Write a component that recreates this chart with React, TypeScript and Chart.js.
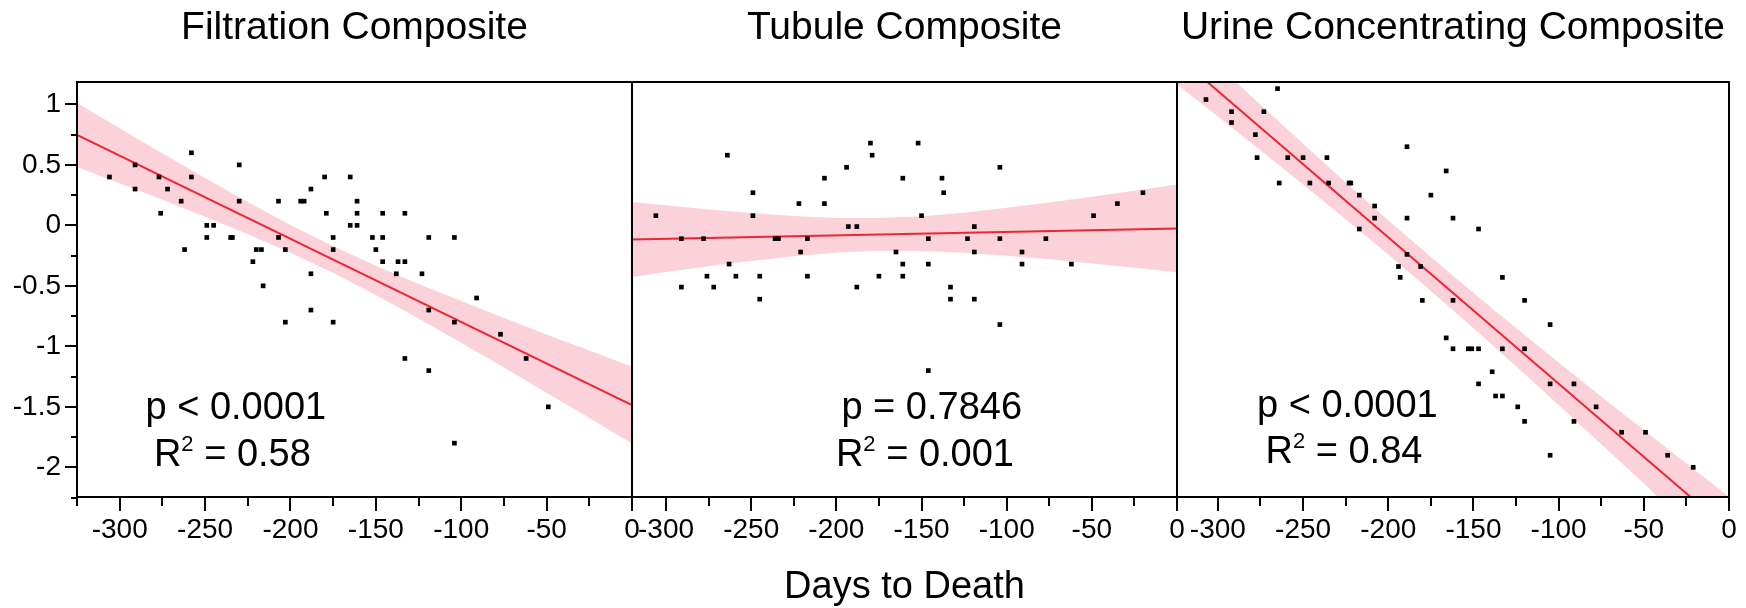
import React, { useEffect, useRef } from 'react';
import { Chart, registerables } from 'chart.js';

Chart.register(...registerables);

const FONT = "'Liberation Sans', Arial, Helvetica, sans-serif";
const RED = '#ee2535';
const PINK = '#fbd2d9';

// ---------- categories / titles ----------
const panelTitles = ['Filtration Composite', 'Tubule Composite', 'Urine Concentrating Composite'];
const xAxisTitle = 'Days to Death';

// ---------- tick labels ----------
const xMajorTicks = [-300, -250, -200, -150, -100, -50, 0];
const xMinorTicks = [-325, -275, -225, -175, -125, -75, -25];
const yMajorTicks = [1, 0.5, 0, -0.5, -1, -1.5, -2];
const yMinorTicks = [0.75, 0.25, -0.25, -0.75, -1.25, -1.75, -2.25];
const yMin = -2.245;
const yMax = 1.185;
const xMins = [-325, -320, -324];

// ---------- Filtration composite ----------
const filtrationDays = [
  -306, -291, -291, -277, -276, -272, -264, -262, -258, -258, -249, -249, -245, -235, -234, -230,
  -230, -222, -220, -217, -216, -207, -207, -203, -203, -194, -192, -188, -188, -188, -180, -179,
  -175, -175, -175, -165, -165, -161, -161, -161, -152, -150, -146, -146, -146, -138, -137, -133,
  -133, -133, -123, -119, -119, -119, -104, -104, -104, -91, -77, -62, -49,
];
const filtrationScores = [
  0.4, 0.5, 0.3, 0.4, 0.1, 0.3, 0.2, -0.2, 0.6, 0.4, 0, -0.1, 0, -0.1, -0.1, 0.5,
  0.2, -0.3, -0.2, -0.2, -0.5, 0.2, -0.1, -0.2, -0.8, 0.2, 0.2, 0.3, -0.4, -0.7, 0.4, 0.1,
  -0.1, -0.2, -0.8, 0.4, 0, 0.2, 0.1, 0, -0.1, -0.2, 0.1, -0.1, -0.3, -0.4, -0.3, 0.1,
  -0.3, -1.1, -0.4, -0.1, -0.7, -1.2, -0.1, -0.8, -1.8, -0.6, -0.9, -1.1, -1.5,
];
const filtrationFitX = [-325, 0];
const filtrationFitY = [0.747, -1.485];
const filtrationBandX = [-325, -300, -275, -250, -225, -200, -175, -150, -125, -100, -75, -50, -25, 0];
const filtrationUpper = [1.011, 0.802, 0.595, 0.392, 0.193, 0.003, -0.173, -0.334, -0.484, -0.626, -0.765, -0.901, -1.034, -1.168];
const filtrationLower = [0.483, 0.348, 0.211, 0.072, -0.073, -0.227, -0.393, -0.576, -0.77, -0.97, -1.175, -1.383, -1.592, -1.802];

// ---------- Tubule composite ----------
const tubuleDays = [
  -306, -291, -291, -278, -276, -272, -264, -263, -259, -249, -249, -245, -245, -236, -234, -222,
  -221, -217, -217, -207, -207, -194, -193, -188, -188, -180, -179, -175, -165, -161, -161, -161,
  -152, -150, -146, -146, -146, -138, -137, -133, -133, -123, -119, -119, -119, -104, -104, -104,
  -91, -91, -77, -62, -49, -35, -20,
];
const tubuleScores = [
  0.08, -0.11, -0.51, -0.11, -0.42, -0.51, 0.58, -0.32, -0.42, 0.27, 0.08, -0.42, -0.61, -0.11, -0.11, 0.18,
  -0.22, -0.11, -0.42, 0.39, 0.18, 0.48, -0.01, -0.01, -0.51, 0.68, 0.58, -0.42, -0.22, 0.39, -0.32, -0.42,
  0.68, 0.08, -0.11, -0.32, -1.2, 0.39, 0.27, -0.51, -0.61, -0.11, -0.01, -0.22, -0.61, 0.48, -0.11, -0.82,
  -0.22, -0.32, -0.11, -0.32, 0.08, 0.18, 0.27,
];
const tubuleFitX = [-320, 0];
const tubuleFitY = [-0.116, -0.025];
const tubuleBandX = [-320, -300, -275, -250, -225, -200, -175, -150, -125, -100, -75, -50, -25, 0];
const tubuleUpper = [0.194, 0.166, 0.132, 0.102, 0.077, 0.061, 0.06, 0.075, 0.105, 0.145, 0.189, 0.237, 0.287, 0.338];
const tubuleLower = [-0.426, -0.386, -0.338, -0.294, -0.255, -0.225, -0.21, -0.211, -0.227, -0.251, -0.281, -0.315, -0.351, -0.388];

// ---------- Urine concentrating composite ----------
const urineDays = [
  -307, -292, -292, -278, -277, -273, -265, -264, -259, -250, -246, -236, -235, -223, -222, -217,
  -217, -208, -208, -194, -193, -189, -189, -189, -181, -180, -175, -166, -166, -162, -162, -162,
  -153, -151, -147, -147, -147, -139, -137, -133, -133, -133, -124, -120, -120, -120, -105, -105,
  -105, -91, -91, -78, -63, -49, -36, -21,
];
const urineScores = [
  1.04, 0.94, 0.85, 0.75, 0.56, 0.94, 1.13, 0.35, 0.56, 0.56, 0.35, 0.56, 0.35, 0.35, 0.35, 0.25,
  -0.03, 0.16, 0.06, -0.34, -0.43, 0.65, 0.06, -0.24, -0.34, -0.62, 0.25, 0.45, -0.93, 0.06, -0.62, -1.02,
  -1.02, -1.02, -0.03, -1.02, -1.31, -1.21, -1.41, -1.41, -0.43, -1.02, -1.5, -0.62, -1.02, -1.62, -0.82, -1.31,
  -1.9, -1.31, -1.62, -1.5, -1.71, -1.71, -1.9, -2.0,
];
const urineFitX = [-325, 0];
const urineFitY = [1.413, -2.518];
const urineBandX = [-325, -300, -275, -250, -225, -200, -175, -150, -125, -100, -75, -50, -25, 0];
const urineUpper = [1.65, 1.321, 0.996, 0.674, 0.355, 0.043, -0.262, -0.558, -0.848, -1.134, -1.414, -1.692, -1.968, -2.242];
const urineLower = [1.176, 0.899, 0.62, 0.338, 0.051, -0.241, -0.542, -0.85, -1.164, -1.484, -1.808, -2.134, -2.464, -2.794];

// ---------- statistics text ----------
const pTexts = ['p < 0.0001', 'p = 0.7846', 'p < 0.0001'];
const r2Values = ['0.58', '0.001', '0.84'];
const statAnchorX = [[-232, -234], [-144, -148], [-224, -226]];
const statAnchorY = [[-1.6, -1.99], [-1.6, -1.99], [-1.58, -1.96]];

// ---------- canvas placement ----------
const canvasLefts = [0, 602, 1147];
const canvasWidths = [662, 605, 599];
const padLefts = [0, 30, 30];
const padRights = [30, 30, 17];
const HEIGHT = 608;

const allDays = [filtrationDays, tubuleDays, urineDays];
const allScores = [filtrationScores, tubuleScores, urineScores];
const allFitX = [filtrationFitX, tubuleFitX, urineFitX];
const allFitY = [filtrationFitY, tubuleFitY, urineFitY];
const allBandX = [filtrationBandX, tubuleBandX, urineBandX];
const allUpper = [filtrationUpper, tubuleUpper, urineUpper];
const allLower = [filtrationLower, tubuleLower, urineLower];

function makeFramePlugin(idx: number) {
  return {
    id: 'panelFrame' + idx,
    afterDatasetsDraw(chart: any) {
      const { ctx, chartArea } = chart;
      const xs = chart.scales.x;
      const ys = chart.scales.y;
      const { left, right, top, bottom } = chartArea;
      ctx.save();
      ctx.strokeStyle = '#000';
      ctx.lineWidth = 2;
      const line = (x1: number, y1: number, x2: number, y2: number) => {
        ctx.beginPath();
        ctx.moveTo(x1, y1);
        ctx.lineTo(x2, y2);
        ctx.stroke();
      };
      const inX = (v: number) => v >= xs.min - 1e-6 && v <= xs.max + 1e-6;
      xMajorTicks.forEach((v) => {
        if (!inX(v)) return;
        const px = Math.round(xs.getPixelForValue(v));
        line(px, bottom, px, bottom + 14);
      });
      xMinorTicks.forEach((v) => {
        if (!inX(v)) return;
        const px = Math.round(xs.getPixelForValue(v));
        line(px, bottom, px, bottom + 9);
      });
      if (idx === 0) {
        yMajorTicks.forEach((v) => {
          const py = Math.round(ys.getPixelForValue(v));
          line(left - 12, py, left, py);
        });
        yMinorTicks.forEach((v) => {
          if (v < yMin - 0.02 || v > yMax) return;
          const py = Math.round(ys.getPixelForValue(v));
          line(left - 6, py, left, py);
        });
      }
      ctx.strokeRect(left, top, right - left, bottom - top);

      // statistics text
      ctx.fillStyle = '#000';
      ctx.textBaseline = 'alphabetic';
      ctx.font = `38px ${FONT}`;
      ctx.textAlign = 'center';
      ctx.fillText(pTexts[idx], xs.getPixelForValue(statAnchorX[idx][0]), ys.getPixelForValue(statAnchorY[idx][0]));
      const cx = xs.getPixelForValue(statAnchorX[idx][1]);
      const by = ys.getPixelForValue(statAnchorY[idx][1]);
      ctx.textAlign = 'left';
      const rest = ' = ' + r2Values[idx];
      const wR = ctx.measureText('R').width;
      const wRest = ctx.measureText(rest).width;
      ctx.font = `22px ${FONT}`;
      const wS = ctx.measureText('2').width;
      let x0 = cx - (wR + wS + wRest) / 2;
      ctx.font = `38px ${FONT}`;
      ctx.fillText('R', x0, by);
      x0 += wR;
      ctx.font = `22px ${FONT}`;
      ctx.fillText('2', x0, by - 15);
      x0 += wS;
      ctx.font = `38px ${FONT}`;
      ctx.fillText(rest, x0, by);
      ctx.restore();
    },
  };
}

function buildConfig(idx: number): any {
  const days = allDays[idx];
  const scores = allScores[idx];
  const gridOpts = {
    display: true,
    drawOnChartArea: false,
    drawTicks: true,
    tickLength: 16,
    color: 'rgba(0,0,0,0)',
  };
  return {
    type: 'scatter',
    data: {
      datasets: [
        {
          type: 'scatter',
          data: days.map((d, i) => ({ x: d, y: scores[i] })),
          pointStyle: 'rect',
          pointRadius: 3.3,
          pointHoverRadius: 3.3,
          backgroundColor: '#000',
          borderWidth: 0,
        },
        {
          type: 'line',
          data: allFitX[idx].map((x, i) => ({ x, y: allFitY[idx][i] })),
          borderColor: RED,
          borderWidth: 2,
          pointRadius: 0,
          fill: false,
          tension: 0,
        },
        {
          type: 'line',
          data: allBandX[idx].map((x, i) => ({ x, y: allUpper[idx][i] })),
          borderColor: 'rgba(0,0,0,0)',
          borderWidth: 0,
          pointRadius: 0,
          fill: false,
          backgroundColor: PINK,
          tension: 0,
        },
        {
          type: 'line',
          data: allBandX[idx].map((x, i) => ({ x, y: allLower[idx][i] })),
          borderColor: 'rgba(0,0,0,0)',
          borderWidth: 0,
          pointRadius: 0,
          fill: '-1',
          backgroundColor: PINK,
          tension: 0,
        },
      ],
    },
    options: {
      responsive: false,
      animation: false,
      events: [],
      layout: { padding: { left: padLefts[idx], right: padRights[idx], top: 0, bottom: 0 } },
      plugins: {
        legend: { display: false },
        tooltip: { enabled: false },
        title: {
          display: true,
          text: panelTitles[idx],
          fullSize: false,
          color: '#000',
          font: { family: FONT, size: 39, weight: 'normal', lineHeight: 1.2 },
          padding: { top: 5, bottom: 30.2 },
        },
      },
      scales: {
        x: {
          type: 'linear',
          min: xMins[idx],
          max: 0,
          afterBuildTicks: (s: any) => {
            s.ticks = xMajorTicks.filter((v) => v >= xMins[idx]).map((v) => ({ value: v }));
          },
          afterFit: (s: any) => {
            s.height = 111;
          },
          grid: gridOpts,
          border: { display: false },
          ticks: {
            padding: 0,
            autoSkip: false,
            maxRotation: 0,
            color: '#000',
            font: { family: FONT, size: 28 },
            callback: (v: any) => String(v),
          },
          title: {
            display: idx === 1,
            text: xAxisTitle,
            color: '#000',
            font: { family: FONT, size: 38, lineHeight: 1 },
            padding: { top: 0, bottom: 1 },
          },
        },
        y: {
          type: 'linear',
          display: idx === 0,
          min: yMin,
          max: yMax,
          afterBuildTicks: (s: any) => {
            s.ticks = yMajorTicks.map((v) => ({ value: v }));
          },
          afterFit: (s: any) => {
            s.width = idx === 0 ? 77 : 0;
          },
          grid: gridOpts,
          border: { display: false },
          ticks: {
            padding: 0,
            color: '#000',
            font: { family: FONT, size: 28 },
            callback: (v: any) => String(v),
          },
        },
      },
    },
    plugins: [makeFramePlugin(idx)],
  };
}

function Panel({ idx }: { idx: number }) {
  const ref = useRef<HTMLCanvasElement>(null);
  useEffect(() => {
    const chart = new Chart(ref.current as HTMLCanvasElement, buildConfig(idx));
    return () => chart.destroy();
  }, [idx]);
  return (
    <canvas
      ref={ref}
      width={canvasWidths[idx]}
      height={HEIGHT}
      style={{ position: 'absolute', left: canvasLefts[idx], top: 0, width: canvasWidths[idx], height: HEIGHT }}
    />
  );
}

export default function App() {
  return (
    <div
      style={{
        position: 'absolute',
        left: 0,
        top: 0,
        width: 1746,
        height: HEIGHT,
        background: '#fff',
        overflow: 'hidden',
      }}
    >
      {[0, 1, 2].map((i) => (
        <Panel key={i} idx={i} />
      ))}
    </div>
  );
}
